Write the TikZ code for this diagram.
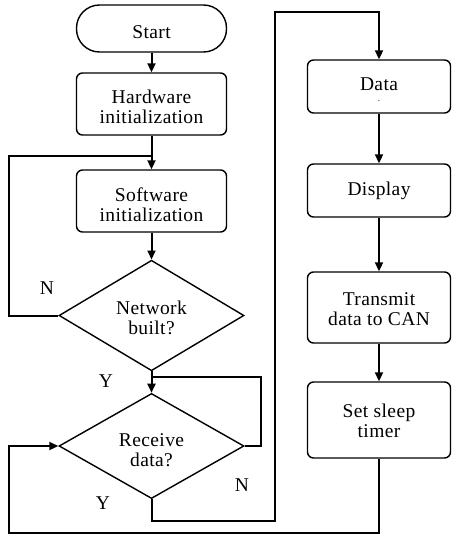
\documentclass[tikz,border=0pt]{standalone}
\usepackage{fontspec}
\setmainfont{Liberation Serif}[LetterSpace=2]
\usetikzlibrary{shapes.geometric,arrows.meta}

% centred text block, lowered by the optional amount inside its own box
\newcommand\cell[2][0pt]{%
  \raisebox{-#1}[\height][\depth]{\begin{tabular}{@{}c@{}}#2\end{tabular}}}

\tikzset{
  base/.style={draw, line width=1.4pt, inner sep=0pt,
    font=\fontsize{19.5}{20}\selectfont},
  procbox/.style={base, rectangle, rounded corners=6pt},
  leftbox/.style={procbox, minimum width=150pt, minimum height=62pt},
  rightbox/.style={procbox, minimum width=143pt},
  termbox/.style={base, rectangle, rounded corners=23pt,
    minimum width=150pt, minimum height=47pt},
  decide/.style={base, diamond, minimum width=185pt, minimum height=104pt},
  flow/.style={line width=2pt, -{Triangle[length=9pt,width=8pt]}},
  plainflow/.style={line width=2pt},
  tag/.style={font=\fontsize{19.5}{20}\selectfont, inner sep=0pt}
}

\begin{document}
\begin{tikzpicture}[x=1pt, y=-1pt]
  \useasboundingbox (0,0) rectangle (451,535);

  % left column
  \node[termbox] (start) at (151.5,28.5) {\cell[6pt]{Start}};
  \node[leftbox] (hw) at (151.5,104) {\cell[5.5pt]{Hardware\\initialization}};
  \node[leftbox] (sw) at (151.5,201) {\cell[6pt]{Software\\initialization}};
  \node[decide] (net) at (151.5,315.5) {\cell[5pt]{Network\\built?}};
  \node[decide, minimum height=102pt] (recv) at (151.5,446)
    {\cell[6.5pt]{Receive\\data?}};

  % right column
  \node[rightbox, minimum height=53pt] (data) at (379,86.5)
    {\cell[5pt]{Data\\[-9pt]{\fontsize{9}{9}\selectfont .}}};
  \node[rightbox, minimum height=53pt] (disp) at (379,190.5) {\cell[0.5pt]{Display}};
  \node[rightbox, minimum height=71pt] (tx) at (379,307.5)
    {\cell[3.5pt]{Transmit\\data to CAN}};
  \node[rightbox, minimum height=76pt] (sleep) at (379,420)
    {\cell[3.5pt]{Set sleep\\timer}};

  % junction points on the main line
  \coordinate (joinsw) at (151.5,155.5);
  \coordinate (joinrx) at (151.5,377);

  % straight flow
  \draw[flow] (start) -- (hw);
  \draw[flow] (hw) -- (sw);
  \draw[flow] (sw) -- (net);
  \draw[flow] (net) -- (recv);
  \draw[flow] (data) -- (disp);
  \draw[flow] (disp) -- (tx);
  \draw[flow] (tx) -- (sleep);

  % N branch of "Network built?" back above software init
  \draw[plainflow] (net.west) -- (9,315.5) |- (joinsw);
  % N branch of "Receive data?" back to its own input
  \draw[plainflow] (recv.east) -- (261,446) |- (joinrx);
  % Y branch of "Receive data?" over to the data box
  \draw[flow] (recv.south) |- (275,521) -- (275,12) -| (data.north);
  % return from the sleep timer to "Receive data?"
  \draw[flow] (sleep.south) |- (9,533) |- (recv.west);

  % branch labels
  \node[tag] (n1) at (47,288) {N};
  \node[tag] (y1) at (106,381) {Y};
  \node[tag] (y2) at (103,503) {Y};
  \node[tag] (n2) at (242,485) {N};
\end{tikzpicture}
\end{document}
